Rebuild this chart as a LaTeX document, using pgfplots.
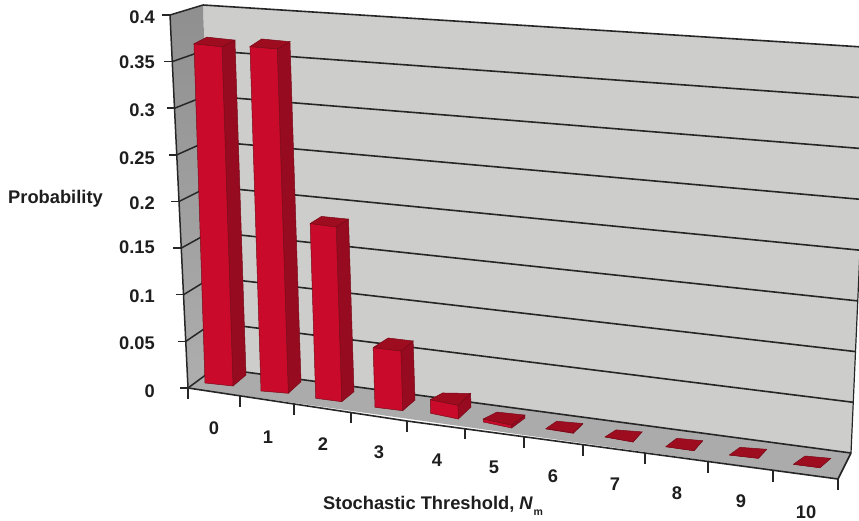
\documentclass[border=0pt]{standalone}
\usepackage{fontspec}
\setmainfont{Liberation Sans}
\usepackage{pgfplots}
\usepackage{pgfplotstable}
\pgfplotsset{compat=1.18}

\definecolor{wallback}{HTML}{CDCDCB}
\definecolor{walltop}{HTML}{8F8F8F}
\definecolor{wallbottom}{HTML}{AEAEAE}
\definecolor{floorgrey}{HTML}{ABABAB}
\definecolor{rule}{HTML}{262626}
\definecolor{barfront}{HTML}{C90A2B}
\definecolor{barside}{HTML}{960B1F}
\definecolor{bartop}{HTML}{9E0C20}
\definecolor{baredge}{HTML}{7A0A18}
\definecolor{labeltext}{HTML}{1E1E1E}

% Probability of each threshold and the four floor corners of its column
% (front left, front right, back right, back left) in the drawing plane.
\pgfplotstableread{
n v xa ya xb yb xc yc xd yd
0 0.368 205 383 233 386 246 375 218 372
1 0.368 261 391 288.3 393.3 301 381.7 272.7 379
2 0.184 315.7 398.3 341.7 401.7 354 391.7 327 389
3 0.062 375 407.3 402.7 410.7 415 400 390 397
4 0.014 430.7 413.3 458.3 419 471 407 443 406.5
5 0.003 483.3 422 511.7 428 525 418 497 415
6 0.0005 546 429 573.3 433.3 582.7 424 556.7 421.7
7 0.0001 605 437 633 442 642 432 616 430
8 0 665.7 446.7 694 450.7 702.7 440.7 676.7 438.3
9 0 729.3 455 758.3 458.3 766.7 449.3 740 447.3
10 0 793.3 464.3 820 467.7 830.7 458.3 805 456
}\barsdata

% Start of each tick on the front floor edge.
\pgfplotstableread{
n tx ty
0 188 388
1 240 396
2 294 403.5
3 351 412
4 407 421
5 465 428
6 524 437
7 583 445
8 645 452.5
9 708 461.5
10 773 471
11 838 479
}\ticksdata

\newcommand{\getbar}[2]{\pgfplotstablegetelem{#1}{#2}\of\barsdata\expandafter\let\csname b#2\endcsname\pgfplotsretval}

\begin{document}
\begin{tikzpicture}[x=1pt,y=1pt]
\path[use as bounding box] (0,0) rectangle (859pt,521pt);
\begin{axis}[
  at={(0,0)}, anchor=south west,
  scale only axis, width=859pt, height=521pt,
  xmin=0, xmax=859, ymin=0, ymax=521, y dir=reverse,
  hide axis,
  clip=true,
  every axis plot/.append style={mark=none},
]
% back wall, left wall, floor
\addplot[fill=wallback,draw=none] coordinates {(203,5) (869,47.4) (851,453) (215,368) (203,5)};
\addplot[top color=walltop,bottom color=wallbottom,draw=none] coordinates {(170,15) (203,5) (215,368) (188,388) (170,15)};
\addplot[fill=floorgrey,draw=none] coordinates {(188,388) (215,368) (851,453) (838,479) (188,388)};

% horizontal rules on the walls, one per 0.05 of probability
\foreach \g in {0,0.05,0.1,0.15,0.2,0.25,0.3,0.35,0.4} {
  \pgfmathsetmacro\xl{215-30*\g}
  \pgfmathsetmacro\yl{368-907.5*\g}
  \pgfmathsetmacro\xr{851+45*\g}
  \pgfmathsetmacro\yr{453-1014*\g}
  \pgfmathsetmacro\xf{188-45*\g}
  \pgfmathsetmacro\yf{388-932.5*\g}
  \addplot[rule,line width=1.6pt] coordinates {(\xl,\yl) (\xr,\yr)};
  \addplot[rule,line width=1.5pt] coordinates {(\xf,\yf) (\xl,\yl)};
  \pgfmathsetmacro\xt{\xf-8}
  \addplot[rule,line width=1.5pt] coordinates {(\xt,\yf) (\xf,\yf)};
}

% outer edges of the box
\addplot[rule,line width=1.5pt] coordinates {(170,15) (188,388)};
\addplot[rule,line width=1.2pt] coordinates {(851,453) (869,47.4)};
\addplot[rule,line width=1.6pt] coordinates {(188,388) (407,421) (838,479) (851,453)};

% ticks under the front floor edge
\foreach \k in {0,...,11} {
  \pgfplotstablegetelem{\k}{tx}\of\ticksdata\let\tx\pgfplotsretval
  \pgfplotstablegetelem{\k}{ty}\of\ticksdata\let\ty\pgfplotsretval
  \pgfmathsetmacro\tb{\ty+11}
  \addplot[rule,line width=1.4pt] coordinates {(\tx,\ty) (\tx,\tb)};
}

% the columns: each corner rises from the floor in proportion to the probability
\foreach \k in {0,...,10} {
  \getbar{\k}{v}\getbar{\k}{xa}\getbar{\k}{ya}\getbar{\k}{xb}\getbar{\k}{yb}
  \getbar{\k}{xc}\getbar{\k}{yc}\getbar{\k}{xd}\getbar{\k}{yd}
  \pgfmathsetmacro\kf{922+14*\k}
  \pgfmathsetmacro\kb{\kf-12}
  \pgfmathsetmacro\dx{30*\bv}
  \pgfmathsetmacro\txa{\bxa-\dx}\pgfmathsetmacro\tya{\bya-\kf*\bv}
  \pgfmathsetmacro\txb{\bxb-\dx}\pgfmathsetmacro\tyb{\byb-\kf*\bv}
  \pgfmathsetmacro\txc{\bxc-\dx}\pgfmathsetmacro\tyc{\byc-\kb*\bv}
  \pgfmathsetmacro\txd{\bxd-\dx}\pgfmathsetmacro\tyd{\byd-\kb*\bv}
  \addplot[fill=barside,draw=baredge,line width=0.5pt] coordinates
    {(\bxb,\byb) (\bxc,\byc) (\txc,\tyc) (\txb,\tyb) (\bxb,\byb)};
  \addplot[fill=barfront,draw=baredge,line width=0.5pt] coordinates
    {(\bxa,\bya) (\bxb,\byb) (\txb,\tyb) (\txa,\tya) (\bxa,\bya)};
  \addplot[fill=bartop,draw=baredge,line width=0.5pt] coordinates
    {(\txa,\tya) (\txb,\tyb) (\txc,\tyc) (\txd,\tyd) (\txa,\tya)};
}

% probability scale
\begin{scope}[every node/.style={font=\fontsize{18.3}{20}\bfseries\selectfont,text=labeltext,anchor=east,inner sep=0pt}]
\node at (axis cs:155,17) {0.4};
\node at (axis cs:155,62) {0.35};
\node at (axis cs:155,110) {0.3};
\node at (axis cs:155,158) {0.25};
\node at (axis cs:155,203) {0.2};
\node at (axis cs:155,247) {0.15};
\node at (axis cs:155,296) {0.1};
\node at (axis cs:155,343) {0.05};
\node at (axis cs:155,391) {0};
\end{scope}

% threshold labels and axis titles
\begin{scope}[every node/.style={font=\fontsize{18.3}{20}\bfseries\selectfont,text=labeltext,inner sep=0pt}]
\node at (axis cs:214,428) {0};
\node at (axis cs:268,437) {1};
\node at (axis cs:323,444) {2};
\node at (axis cs:379,452) {3};
\node at (axis cs:437,460) {4};
\node at (axis cs:494,467) {5};
\node at (axis cs:553,476) {6};
\node at (axis cs:615,484) {7};
\node at (axis cs:677,493) {8};
\node at (axis cs:741,501) {9};
\node at (axis cs:806,512) {10};
\node[anchor=west] at (axis cs:8,199) {Probability};
\node[anchor=base west] at (axis cs:323,509.5) {Stochastic Threshold, {\itshape N}\hspace{1pt}\raisebox{-6pt}{\fontsize{10.5}{10}\selectfont m}};
\end{scope}
\end{axis}
\end{tikzpicture}
\end{document}
